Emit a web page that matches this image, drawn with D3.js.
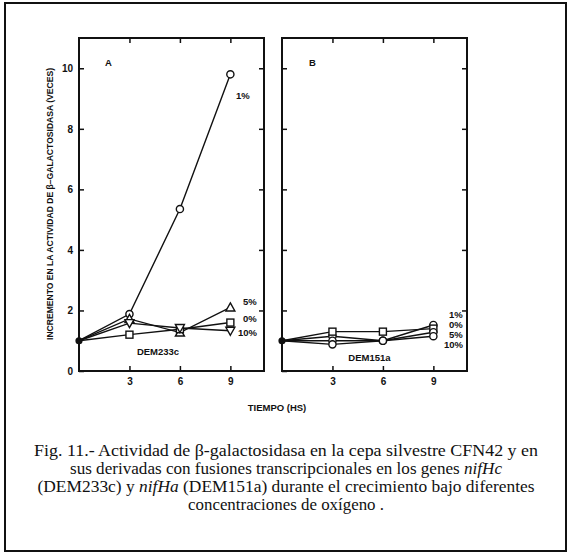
<!DOCTYPE html>
<html>
<head>
<meta charset="utf-8">
<script src="https://cdn.jsdelivr.net/npm/d3@7"></script>
<style>
body { margin: 0; background: #fff; }
svg { display: block; }
.tk text { font-family: "Liberation Sans", Arial, sans-serif; font-weight: bold; font-size: 10px; fill: #111; }
.tk line { stroke: #111; stroke-width: 1.5; }
.lbl { font-family: "Liberation Sans", Arial, sans-serif; font-weight: bold; font-size: 9.5px; fill: #111; }
.cap { font-family: "Liberation Serif", "Times New Roman", serif; font-size: 16.5px; fill: #111; }
</style>
</head>
<body>
<script>
// time points (hours)
var tiempo = [0, 3, 6, 9];
var yTicks = [0, 2, 4, 6, 8, 10];
var xTicks = [3, 6, 9];

// panel A: DEM233c (nifHc)
var a1 = [1, 1.88, 5.35, 9.8];
var a5 = [1, 1.72, 1.27, 2.1];
var a0 = [1, 1.2, 1.38, 1.6];
var a10 = [1, 1.58, 1.42, 1.33];

// panel B: DEM151a (nifHa)
var b1 = [1, 1.15, 1.0, 1.52];
var b0 = [1, 1.3, 1.3, 1.4];
var b5 = [1, 1.0, 1.0, 1.28];
var b10 = [1, 0.88, 1.0, 1.15];

var W = 570, H = 555;
var svg = d3.select("body").append("svg")
    .attr("width", W)
    .attr("height", H);

// outer frame
svg.append("rect")
    .attr("x", 5).attr("y", 3)
    .attr("width", 561).attr("height", 548)
    .attr("fill", "none")
    .attr("stroke", "#111")
    .attr("stroke-width", 2);

var y = d3.scaleLinear().domain([0, 11]).range([371, 38]);

function marker(g, type, cx, cy, fill) {
    var s = "#111";
    if (type == "circle") {
	g.append("circle").attr("cx", cx).attr("cy", cy).attr("r", 3.6)
	    .attr("fill", fill || "#fff").attr("stroke", s).attr("stroke-width", 1.4);
    } else if (type == "square") {
	g.append("rect").attr("x", cx - 3.5).attr("y", cy - 3.5)
	    .attr("width", 7).attr("height", 7)
	    .attr("fill", "#fff").attr("stroke", s).attr("stroke-width", 1.4);
    } else if (type == "up") {
	g.append("path").attr("d", "M" + cx + "," + (cy - 4.5) + "L" + (cx + 4.5) + "," + (cy + 3.5) + "L" + (cx - 4.5) + "," + (cy + 3.5) + "Z")
	    .attr("fill", "#fff").attr("stroke", s).attr("stroke-width", 1.4);
    } else if (type == "down") {
	g.append("path").attr("d", "M" + cx + "," + (cy + 4.5) + "L" + (cx + 4.5) + "," + (cy - 3.5) + "L" + (cx - 4.5) + "," + (cy - 3.5) + "Z")
	    .attr("fill", "#fff").attr("stroke", s).attr("stroke-width", 1.4);
    }
}

function drawPanel(x0, x1, series, showLabels) {
    var x = d3.scaleLinear().domain([0, 11]).range([x0, x1]);
    var g = svg.append("g");

    var left = d3.axisLeft(y).tickValues(yTicks).tickSize(-5).tickPadding(6);
    if (!showLabels) left.tickFormat("");
    g.append("g").attr("class", "tk").attr("transform", "translate(" + x0 + ",0)").call(left);
    g.append("g").attr("class", "tk").attr("transform", "translate(" + x1 + ",0)")
	.call(d3.axisRight(y).tickValues(yTicks.slice(1)).tickSize(-5).tickFormat(""));
    g.append("g").attr("class", "tk").attr("transform", "translate(0," + y(0) + ")")
	.call(d3.axisBottom(x).tickValues(xTicks).tickSize(-5).tickPadding(7));
    g.append("g").attr("class", "tk").attr("transform", "translate(0," + y(11) + ")")
	.call(d3.axisTop(x).tickValues(xTicks).tickSize(-5).tickFormat(""));
    g.selectAll(".domain").remove();

    g.append("rect")
	.attr("x", x0).attr("y", y(11))
	.attr("width", x1 - x0).attr("height", y(0) - y(11))
	.attr("fill", "none").attr("stroke", "#111").attr("stroke-width", 2);

    var line = d3.line()
	.x(function(d, i) { return x(tiempo[i]); })
	.y(function(d) { return y(d); });

    series.forEach(function(s) {
	g.append("path").datum(s.values)
	    .attr("d", line)
	    .attr("fill", "none")
	    .attr("stroke", "#111")
	    .attr("stroke-width", 1.4);
    });
    series.forEach(function(s) {
	for (var i = 1; i < s.values.length; i++) {
	    marker(g, s.type, x(tiempo[i]), y(s.values[i]), s.filled && s.filled[i] ? "#111" : null);
	}
    });
    g.append("circle").attr("cx", x(0)).attr("cy", y(1)).attr("r", 3.6).attr("fill", "#111");
    return x;
}

var xa = drawPanel(79, 264, [
    { name: "1%", values: a1, type: "circle" },
    { name: "5%", values: a5, type: "up" },
    { name: "0%", values: a0, type: "square" },
    { name: "10%", values: a10, type: "down" }
], true);

var xb = drawPanel(282, 467, [
    { name: "1%", values: b1, type: "circle" },
    { name: "0%", values: b0, type: "square" },
    { name: "5%", values: b5, type: "circle", filled: [0, 0, 1, 0] },
    { name: "10%", values: b10, type: "circle" }
], false);

// panel letters and strain names
svg.append("text").attr("class", "lbl").attr("x", 105).attr("y", 66).text("A");
svg.append("text").attr("class", "lbl").attr("x", 309).attr("y", 66).text("B");
svg.append("text").attr("class", "lbl").attr("x", xa(4.7)).attr("y", 355).attr("text-anchor", "middle").text("DEM233c");
svg.append("text").attr("class", "lbl").attr("x", xb(5.2)).attr("y", 361).attr("text-anchor", "middle").text("DEM151a");

// series labels
var labA = [["1%", 236, 99], ["5%", 243, 305], ["0%", 243, 322], ["10%", 238, 336]];
labA.forEach(function(l) {
    svg.append("text").attr("class", "lbl").attr("x", l[1]).attr("y", l[2]).text(l[0]);
});
var labB = [["1%", 449, 318], ["0%", 449, 328], ["5%", 449, 338], ["10%", 444, 348]];
labB.forEach(function(l) {
    svg.append("text").attr("class", "lbl").attr("font-size", "7.5px").attr("x", l[1]).attr("y", l[2]).text(l[0]);
});

// axis titles
svg.append("text").attr("class", "lbl")
    .attr("transform", "translate(53,204) rotate(-90)")
    .attr("text-anchor", "middle")
    .attr("font-size", "8.5px")
    .attr("textLength", 272)
    .attr("lengthAdjust", "spacingAndGlyphs")
    .text("INCREMENTO EN LA ACTIVIDAD DE \u03B2\u2013GALACTOSIDASA (VECES)");
svg.append("text").attr("class", "lbl")
    .attr("x", 277).attr("y", 411)
    .attr("text-anchor", "middle")
    .attr("font-size", "9px")
    .text("TIEMPO (HS)");

// caption
var cap = [
    [{ t: "Fig. 11.- Actividad de \u03B2-galactosidasa en la cepa silvestre CFN42 y en" }],
    [{ t: "sus derivadas con fusiones transcripcionales en los genes " }, { t: "nifHc", i: true }],
    [{ t: "(DEM233c) y " }, { t: "nifHa", i: true }, { t: " (DEM151a) durante el crecimiento bajo diferentes" }],
    [{ t: "concentraciones de ox\u00EDgeno ." }]
];
var capY = [456, 474, 492, 510];
var capW = [504, 432, 497, 196];
cap.forEach(function(parts, k) {
    var t = svg.append("text").attr("class", "cap")
	.attr("x", 286).attr("y", capY[k])
	.attr("text-anchor", "middle")
	.attr("textLength", capW[k])
	.attr("lengthAdjust", "spacingAndGlyphs");
    parts.forEach(function(p) {
	t.append("tspan").attr("font-style", p.i ? "italic" : null).text(p.t);
    });
});
</script>
</body>
</html>
